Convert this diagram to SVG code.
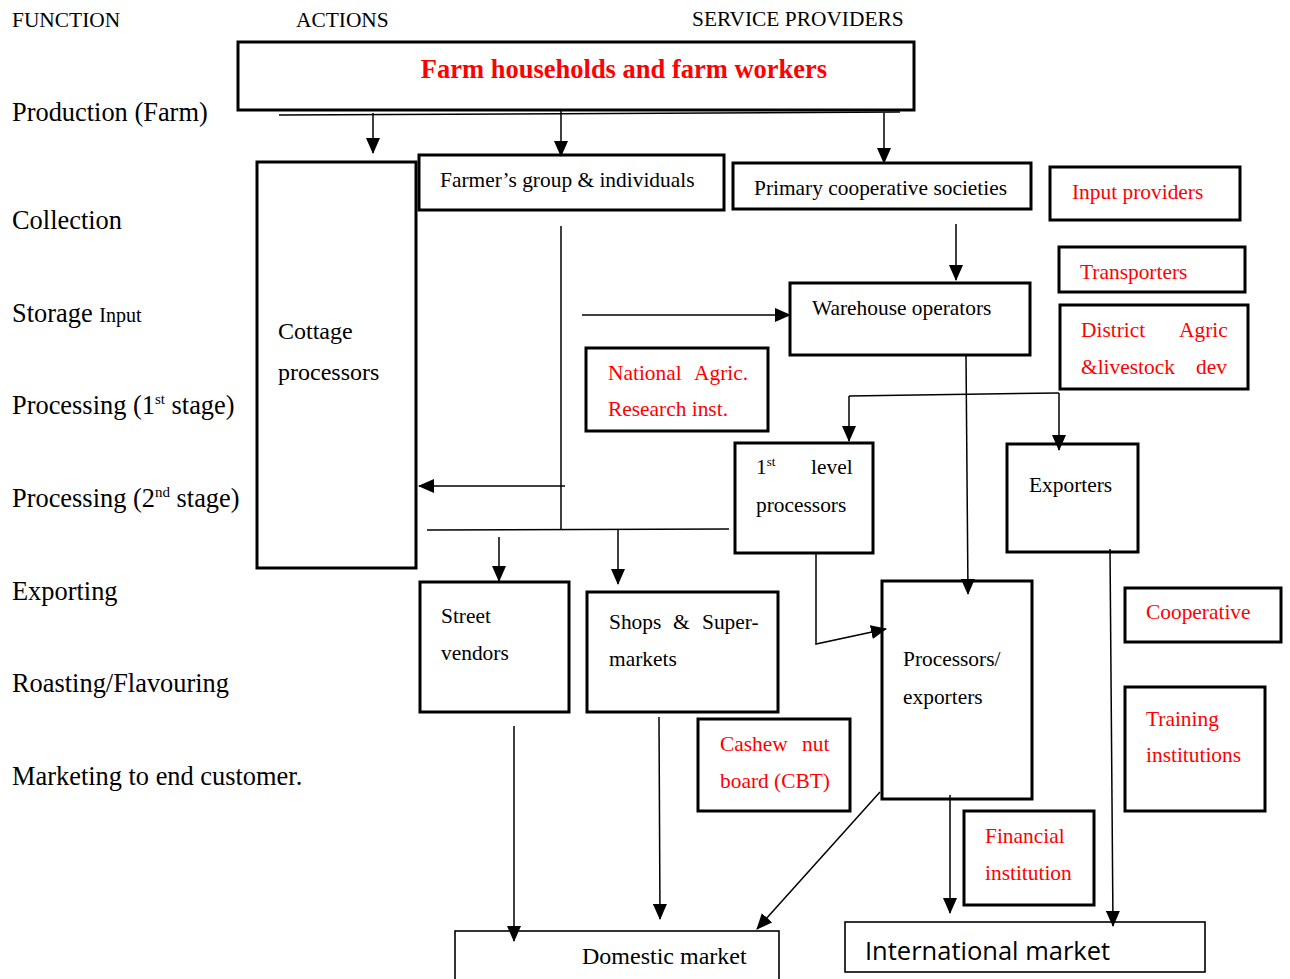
<svg xmlns="http://www.w3.org/2000/svg" width="1290" height="979" viewBox="0 0 1290 979">
<defs>
<marker id="ah" markerWidth="16" markerHeight="14" refX="15" refY="7" orient="auto" markerUnits="userSpaceOnUse" viewBox="0 0 16 14">
<path d="M0,0 L16,7 L0,14 z" fill="#000"/>
</marker>
<style>
.box{fill:#fff;stroke:#000;stroke-width:3}
.thin{fill:#fff;stroke:#000;stroke-width:1.6}
.t{font-family:"Liberation Serif",serif;font-size:21.4px;fill:#000}
.big{font-family:"Liberation Serif",serif;font-size:24px;fill:#000}
.r{font-family:"Liberation Serif",serif;font-size:21.4px;fill:#ff0000}
.lab{font-family:"Liberation Serif",serif;font-size:26.4px;fill:#000}
.hd{font-family:"Liberation Serif",serif;font-size:21.4px;fill:#000}
.c{fill:none;stroke:#000;stroke-width:1.5}
.ca{fill:none;stroke:#000;stroke-width:1.5;marker-end:url(#ah)}
</style>
</defs>
<rect width="1290" height="979" fill="#fff"/>
<g id="headers">
<text class="hd" x="12" y="27">FUNCTION</text>
<text class="hd" x="296" y="27">ACTIONS</text>
<text class="hd" x="692" y="26">SERVICE PROVIDERS</text>
</g>
<g id="functions">
<text class="lab" x="12" y="121">Production (Farm)</text>
<text class="lab" x="12" y="229">Collection</text>
<text class="lab" x="12" y="322">Storage <tspan style="font-size:20px">Input</tspan></text>
<text class="lab" x="12" y="414">Processing (1<tspan style="font-size:15px" dy="-10">st</tspan><tspan dy="10"> stage)</tspan></text>
<text class="lab" x="12" y="507">Processing (2<tspan style="font-size:15px" dy="-10">nd</tspan><tspan dy="10"> stage)</tspan></text>
<text class="lab" x="12" y="600">Exporting</text>
<text class="lab" x="12" y="692">Roasting/Flavouring</text>
<text class="lab" x="12" y="785">Marketing to end customer.</text>
</g>
<g id="farm">
<rect class="box" x="238" y="42" width="676" height="68"/>
<text x="624" y="78" text-anchor="middle" font-family="Liberation Serif, serif" font-size="26.5" font-weight="bold" fill="#ff0000">Farm households and farm workers</text>
</g>
<g id="cottage">
<rect class="box" x="257" y="162" width="159" height="406"/>
<text class="big" x="278" y="339">Cottage</text>
<text class="big" x="278" y="380">processors</text>
</g>
<g id="farmers-group">
<rect class="box" x="419" y="155" width="305" height="55"/>
<text class="t" x="440" y="187">Farmer’s group &amp; individuals</text>
</g>
<g id="primary-coop">
<rect class="box" x="733" y="163" width="298" height="46"/>
<text class="t" x="754" y="195">Primary cooperative societies</text>
</g>
<g id="input-providers">
<rect class="box" x="1050" y="167" width="190" height="53"/>
<text class="r" x="1072" y="199">Input providers</text>
</g>
<g id="transporters">
<rect class="box" x="1059" y="247" width="186" height="45"/>
<text class="r" x="1080" y="279">Transporters</text>
</g>
<g id="district">
<rect class="box" x="1060" y="305" width="188" height="84"/>
<text class="r" x="1081" y="337">District</text>
<text class="r" x="1179" y="337">Agric</text>
<text class="r" x="1081" y="374">&amp;livestock</text>
<text class="r" x="1196" y="374">dev</text>
</g>
<g id="warehouse">
<rect class="box" x="790" y="283" width="240" height="72"/>
<text class="t" x="812" y="315">Warehouse operators</text>
</g>
<g id="nari">
<rect class="box" x="586" y="348" width="182" height="83"/>
<text class="r" x="608" y="380">National</text>
<text class="r" x="694" y="380">Agric.</text>
<text class="r" x="608" y="416">Research inst.</text>
</g>
<g id="first-level">
<rect class="box" x="735" y="443" width="138" height="110"/>
<text class="t" x="756" y="474">1<tspan style="font-size:13px" dy="-8">st</tspan></text>
<text class="t" x="811" y="474">level</text>
<text class="t" x="756" y="512">processors</text>
</g>
<g id="exporters">
<rect class="box" x="1007" y="444" width="131" height="108"/>
<text class="t" x="1029" y="492">Exporters</text>
</g>
<g id="processors-exporters">
<rect class="box" x="882" y="581" width="150" height="218"/>
<text class="t" x="903" y="666">Processors/</text>
<text class="t" x="903" y="704">exporters</text>
</g>
<g id="street-vendors">
<rect class="box" x="420" y="582" width="149" height="130"/>
<text class="t" x="441" y="623">Street</text>
<text class="t" x="441" y="660">vendors</text>
</g>
<g id="shops">
<rect class="box" x="587" y="592" width="191" height="120"/>
<text class="t" x="609" y="629">Shops</text>
<text class="t" x="673" y="629">&amp;</text>
<text class="t" x="702" y="629">Super-</text>
<text class="t" x="609" y="666">markets</text>
</g>
<g id="cashew">
<rect class="box" x="698" y="719" width="152" height="92"/>
<text class="r" x="720" y="751">Cashew</text>
<text class="r" x="802" y="751">nut</text>
<text class="r" x="720" y="788">board (CBT)</text>
</g>
<g id="cooperative">
<rect class="box" x="1125" y="588" width="156" height="54"/>
<text class="r" x="1146" y="619">Cooperative</text>
</g>
<g id="training">
<rect class="box" x="1125" y="687" width="140" height="124"/>
<text class="r" x="1146" y="726">Training</text>
<text class="r" x="1146" y="762">institutions</text>
</g>
<g id="financial">
<rect class="box" x="964" y="811" width="130" height="94"/>
<text class="r" x="985" y="843">Financial</text>
<text class="r" x="985" y="880">institution</text>
</g>
<g id="domestic">
<rect class="thin" x="455" y="931" width="324" height="60"/>
<text class="big" x="582" y="964">Domestic market</text>
</g>
<g id="international">
<rect class="thin" x="845" y="922" width="360" height="50"/>
<text x="865" y="960" font-family="Open Sans, sans-serif" font-size="25.5" fill="#000">International market</text>
</g>
<g id="connectors">
<path class="c" d="M279,115 L900,112"/>
<path class="ca" d="M373,113 L373,153"/>
<path class="ca" d="M561,110 L561,156"/>
<path class="ca" d="M884,113 L884,163"/>
<path class="ca" d="M956,224 L956,280"/>
<path class="ca" d="M582,315 L790,315"/>
<path class="c" d="M561,226 L561,530"/>
<path class="ca" d="M565,486 L419,486"/>
<path class="c" d="M427,530 L729,529"/>
<path class="ca" d="M499,537 L499,581"/>
<path class="ca" d="M618,530 L618,584"/>
<path class="c" d="M849,396 L1059,393"/>
<path class="ca" d="M849,396 L849,441"/>
<path class="ca" d="M1059,393 L1059,450"/>
<path class="ca" d="M966,356 L968,594"/>
<path class="ca" d="M816,553 L816,644 L886,629"/>
<path class="ca" d="M1110,549 L1113,926"/>
<path class="ca" d="M514,726 L514,941"/>
<path class="ca" d="M659,717 L660,919"/>
<path class="ca" d="M880,792 L757,929"/>
<path class="ca" d="M950,795 L950,913"/>
</g>
</svg>
